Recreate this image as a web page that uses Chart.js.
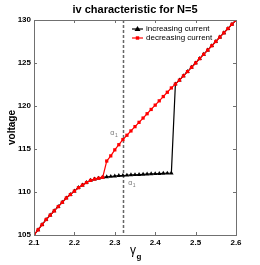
<!DOCTYPE html>
<html>
<head>
<meta charset="utf-8">
<script src="https://cdn.jsdelivr.net/npm/chart.js@4"></script>
<style>
  html, body { margin: 0; padding: 0; background: #fff; }
  #wrap { width: 260px; height: 265px; }
</style>
</head>
<body>
<div id="wrap"><canvas id="ivChart" width="260" height="265"></canvas></div>
<script>
// gamma_g values (x axis)
const gammaValues = [2.10, 2.11, 2.12, 2.13, 2.14, 2.15, 2.16, 2.17, 2.18, 2.19,
                     2.20, 2.21, 2.22, 2.23, 2.24, 2.25, 2.26, 2.27, 2.28, 2.29,
                     2.30, 2.31, 2.32, 2.33, 2.34, 2.35, 2.36, 2.37, 2.38, 2.39,
                     2.40, 2.41, 2.42, 2.43, 2.44, 2.45, 2.46, 2.47, 2.48, 2.49,
                     2.50, 2.51, 2.52, 2.53, 2.54, 2.55, 2.56, 2.57, 2.58, 2.59, 2.60];

// voltage, increasing current (black triangles)
const voltageIncreasing = [105.0, 105.6, 106.2, 106.8, 107.3, 107.8, 108.3, 108.8, 109.3, 109.7,
                           110.1, 110.5, 110.8, 111.1, 111.35, 111.5, 111.6, 111.7, 111.75, 111.8,
                           111.85, 111.9, 111.92, 111.95, 111.98, 112.0, 112.02, 112.05, 112.07, 112.1,
                           112.12, 112.14, 112.16, 112.18, 112.2, 122.55, 123.0, 123.5, 124.0, 124.5,
                           125.0, 125.5, 126.0, 126.5, 127.0, 127.5, 128.0, 128.5, 129.0, 129.5, 130.0];

// voltage, decreasing current (red squares)
const voltageDecreasing = [105.0, 105.6, 106.2, 106.8, 107.3, 107.8, 108.3, 108.8, 109.3, 109.7,
                           110.1, 110.5, 110.8, 111.1, 111.35, 111.5, 111.6, 111.7, 113.6, 114.2,
                           114.9, 115.5, 116.1, 116.6, 117.1, 117.6, 118.1, 118.6, 119.1, 119.6,
                           120.1, 120.6, 121.1, 121.6, 122.1, 122.55, 123.0, 123.5, 124.0, 124.5,
                           125.0, 125.5, 126.0, 126.5, 127.0, 127.5, 128.0, 128.5, 129.0, 129.5, 130.0];

const xTicks = [2.1, 2.2, 2.3, 2.4, 2.5, 2.6];
const yTicks = [105, 110, 115, 120, 125, 130];
const seriesNames = ['increasing current', 'decreasing current'];

// dashed marker and the two alpha labels
const dashedGamma = 2.32;
const alphaLabels = [
  { x: 2.294, y: 116.8, text: 'α', sub: '1' },
  { x: 2.338, y: 111.0, text: 'α', sub: '1' }
];

const FONT = '"Liberation Sans", Arial, sans-serif';

function toPoints(xs, ys) {
  return xs.map((x, i) => ({ x: x, y: ys[i] }));
}

// axes box, inward ticks, dashed line, texts, legend
const decorations = {
  id: 'decorations',
  beforeDatasetsDraw(chart) {
    const ctx = chart.ctx;
    const { top, bottom } = chart.chartArea;
    const xs = chart.scales.x;
    // vertical dashed line
    const dx = Math.round(xs.getPixelForValue(dashedGamma)) + 0.5;
    ctx.save();
    ctx.strokeStyle = '#666';
    ctx.lineWidth = 1.5;
    ctx.setLineDash([3, 2]);
    ctx.beginPath();
    ctx.moveTo(dx, top);
    ctx.lineTo(dx, bottom);
    ctx.stroke();
    ctx.restore();
  },
  afterDraw(chart) {
    const ctx = chart.ctx;
    const { left, right, top, bottom } = chart.chartArea;
    const xs = chart.scales.x;
    const ys = chart.scales.y;

    ctx.save();
    ctx.strokeStyle = '#707070';
    ctx.lineWidth = 1;
    ctx.strokeRect(left + 0.5, top + 0.5, right - left, bottom - top);

    // inward ticks on all four sides
    ctx.beginPath();
    xTicks.forEach(v => {
      const px = Math.round(xs.getPixelForValue(v)) + 0.5;
      ctx.moveTo(px, bottom); ctx.lineTo(px, bottom - 3);
      ctx.moveTo(px, top); ctx.lineTo(px, top + 3);
    });
    yTicks.forEach(v => {
      const py = Math.round(ys.getPixelForValue(v)) + 0.5;
      ctx.moveTo(left, py); ctx.lineTo(left + 3, py);
      ctx.moveTo(right, py); ctx.lineTo(right - 3, py);
    });
    ctx.stroke();

    // alpha labels
    ctx.fillStyle = '#777';
    alphaLabels.forEach(l => {
      const px = xs.getPixelForValue(l.x);
      const py = ys.getPixelForValue(l.y);
      ctx.font = '7px ' + FONT;
      ctx.textAlign = 'center';
      ctx.textBaseline = 'middle';
      ctx.fillText(l.text, px, py);
      ctx.font = '5px ' + FONT;
      ctx.fillText(l.sub, px + 4, py + 2);
    });

    // title
    ctx.fillStyle = '#000';
    ctx.font = 'bold 11px ' + FONT;
    ctx.textAlign = 'center';
    ctx.textBaseline = 'middle';
    ctx.fillText('iv characteristic for N=5', (left + right) / 2, 10);

    // y title
    ctx.save();
    ctx.translate(12, (top + bottom) / 2);
    ctx.rotate(-Math.PI / 2);
    ctx.font = 'bold 10px ' + FONT;
    ctx.fillText('voltage', 0, 0);
    ctx.restore();

    // x title: gamma with subscript g
    ctx.font = '12px ' + FONT;
    ctx.textAlign = 'center';
    ctx.fillText('γ', 133, 251);
    ctx.font = 'bold 8px ' + FONT;
    ctx.fillText('g', 139, 257);

    // legend
    const lx = 132, lw = 11;
    chart.data.datasets.slice().sort((a, b) => b.order - a.order).forEach((ds, i) => {
      const ly = 29 + i * 9;
      ctx.strokeStyle = ds.borderColor;
      ctx.lineWidth = 1.2;
      ctx.beginPath();
      ctx.moveTo(lx, ly); ctx.lineTo(lx + lw, ly);
      ctx.stroke();
      ctx.fillStyle = ds.pointBackgroundColor;
      if (ds.pointStyle === 'triangle') {
        ctx.beginPath();
        ctx.moveTo(lx + lw / 2, ly - 3);
        ctx.lineTo(lx + lw / 2 + 3, ly + 2);
        ctx.lineTo(lx + lw / 2 - 3, ly + 2);
        ctx.closePath();
        ctx.fill();
      } else {
        ctx.fillRect(lx + lw / 2 - 1.7, ly - 1.7, 3.4, 3.4);
      }
      ctx.fillStyle = '#000';
      ctx.font = '8px ' + FONT;
      ctx.textAlign = 'left';
      ctx.textBaseline = 'middle';
      ctx.fillText(ds.label, lx + lw + 3, ly);
    });
    ctx.restore();
  }
};

const ctx = document.getElementById('ivChart').getContext('2d');
const chart = new Chart(ctx, {
  type: 'line',
  data: {
    datasets: [{
      label: seriesNames[0],
      data: toPoints(gammaValues, voltageIncreasing),
      borderColor: '#000',
      backgroundColor: '#000',
      pointBackgroundColor: '#000',
      pointBorderWidth: 0,
      borderWidth: 1.2,
      pointStyle: 'triangle',
      pointRadius: 2.6,
      tension: 0,
      order: 1
    }, {
      label: seriesNames[1],
      data: toPoints(gammaValues, voltageDecreasing),
      borderColor: '#ff0000',
      backgroundColor: '#ff0000',
      pointBackgroundColor: '#ff0000',
      pointBorderWidth: 0,
      borderWidth: 1.2,
      pointStyle: 'rect',
      pointRadius: 2.3,
      tension: 0,
      order: 0
    }]
  },
  options: {
    responsive: false,
    animation: false,
    devicePixelRatio: 1,
    layout: { padding: { top: 20, right: 24, left: 0, bottom: 0 } },
    plugins: {
      legend: { display: false },
      tooltip: { enabled: false },
      title: { display: false }
    },
    scales: {
      x: {
        type: 'linear',
        min: 2.1,
        max: 2.6,
        afterFit: (scale) => { scale.height = 30; },
        afterBuildTicks: (scale) => { scale.ticks = xTicks.map(v => ({ value: v })); },
        border: { display: false },
        grid: { display: false, drawTicks: false },
        ticks: {
          padding: 3,
          color: '#000',
          font: { family: FONT, size: 8, weight: 'bold' },
          maxRotation: 0,
          callback: (v) => Number(v).toFixed(1)
        }
      },
      y: {
        type: 'linear',
        min: 105,
        max: 130,
        afterFit: (scale) => { scale.width = 34; },
        afterBuildTicks: (scale) => { scale.ticks = yTicks.map(v => ({ value: v })); },
        border: { display: false },
        grid: { display: false, drawTicks: false },
        ticks: {
          padding: 3,
          color: '#000',
          font: { family: FONT, size: 8, weight: 'bold' },
          callback: (v) => String(v)
        }
      }
    }
  },
  plugins: [decorations]
});
</script>
</body>
</html>
